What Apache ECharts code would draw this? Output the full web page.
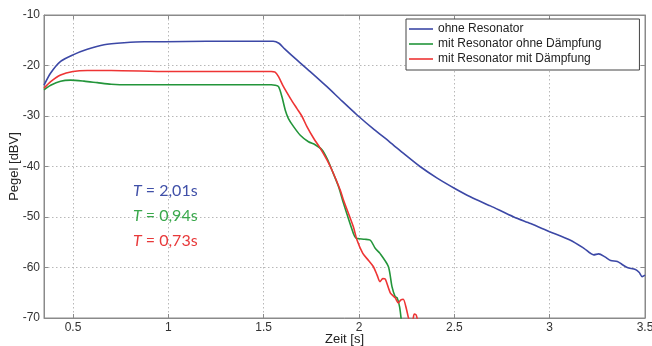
<!DOCTYPE html>
<html>
<head>
<meta charset="utf-8">
<script src="https://cdn.jsdelivr.net/npm/echarts@6/dist/echarts.min.js"></script>
<style>html,body{margin:0;padding:0;background:#fff}#c{width:652px;height:346px}</style>
</head>
<body>
<div id="c"></div>
<script>
var seriesNames = ['ohne Resonator', 'mit Resonator ohne Dämpfung', 'mit Resonator mit Dämpfung'];
var xTicks = [0.5, 1, 1.5, 2, 2.5, 3, 3.5];
var xTickLabels = ['0.5', '1', '1.5', '2', '2.5', '3', '3.5'];
var yTicks = [-70, -60, -50, -40, -30, -20, -10];

var blueT = [0.348,0.383,0.435,0.5,0.575,0.663,0.768,0.873,0.98,1.2,1.4,1.55,1.58,1.61,1.674,1.75,1.832,1.91,1.99,2.08,2.16,2.24,2.32,2.41,2.5,2.584,2.689,2.812,2.9,3.0,3.109,3.18,3.231,3.257,3.29,3.32,3.355,3.38,3.407,3.45,3.47,3.485,3.5];
var blueV = [-23.9,-21.5,-19.2,-17.9,-16.8,-15.9,-15.5,-15.3,-15.3,-15.2,-15.2,-15.2,-15.6,-16.7,-18.9,-21.4,-24.2,-27.0,-29.8,-32.7,-35.1,-37.6,-40.0,-42.3,-44.3,-46.0,-47.8,-50.0,-51.3,-52.9,-54.6,-56.2,-57.5,-57.3,-57.9,-58.6,-58.8,-59.4,-60.0,-60.4,-61.0,-61.8,-61.5];

var greenT = [0.348,0.383,0.435,0.488,0.558,0.628,0.7,0.8,1.0,1.3,1.54,1.56,1.578,1.596,1.613,1.63,1.657,1.692,1.735,1.77,1.806,1.832,1.858,1.893,1.918,1.97,1.985,2.0,2.03,2.06,2.085,2.11,2.154,2.173,2.19,2.2,2.213,2.222];
var greenV = [-24.8,-23.9,-23.1,-22.9,-23.1,-23.4,-23.7,-23.8,-23.8,-23.8,-23.8,-23.9,-24.2,-26.2,-28.8,-30.5,-32.1,-33.8,-35.1,-35.7,-36.7,-38.4,-40.7,-44.0,-47.2,-53.2,-54.2,-54.3,-54.4,-54.6,-56.2,-57.2,-59.8,-63.8,-65.8,-66.0,-67.8,-70.5];

var redT = [0.348,0.383,0.435,0.5,0.575,0.7,1.0,1.3,1.54,1.56,1.578,1.604,1.64,1.674,1.7,1.727,1.762,1.797,1.832,1.858,1.902,1.918,1.97,1.99,2.02,2.05,2.075,2.095,2.11,2.125,2.138,2.164,2.19,2.206,2.22,2.232,2.25,2.262,2.28,2.29,2.3,2.31];
var redV = [-24.5,-23.2,-21.9,-21.2,-21.0,-21.0,-21.2,-21.2,-21.2,-21.3,-22.2,-24.2,-26.5,-28.5,-30.0,-32.1,-34.4,-36.4,-38.7,-40.7,-44.7,-46.6,-51.9,-54.6,-57.2,-58.6,-59.8,-61.5,-62.8,-62.2,-62.3,-65.0,-66.0,-67.0,-66.4,-66.3,-68.4,-70.2,-70.5,-69.2,-69.4,-71.0];

var annoTexts = ['2,01s', '0,94s', '0,73s'];
var colors = ['#3c48a6', '#23953a', '#ee3434'];
var annoColors = ['#4050a8', '#3aa84c', '#e8393a'];

function pairs(t, v) { return t.map(function (x, i) { return [x, v[i]]; }); }

var chart = echarts.init(document.getElementById('c'));
var axisCol = '#8a8a8a';
var gridLine = { show: true, lineStyle: { color: '#b8b8b8', type: [1.5, 2.5], width: 1 } };
var font = 'Liberation Sans, Arial, sans-serif';

chart.setOption({
  animation: false,
  color: colors,
  grid: { left: 44, right: 7, top: 15, bottom: 28, show: true, borderColor: axisCol, borderWidth: 1,
          containLabel: false, outerBoundsMode: 'none' },
  legend: {
    orient: 'vertical', left: 406, top: 19,
    data: seriesNames,
    icon: 'rect', itemWidth: 24, itemHeight: 1.6, itemGap: 3,
    padding: [4, 38, 5, 3],
    borderColor: '#444', borderWidth: 1, backgroundColor: '#fff',
    textStyle: { fontFamily: font, fontSize: 12, color: '#222' }
  },
  xAxis: [{
    type: 'value', min: 0.348, max: 3.5,
    name: 'Zeit [s]', nameLocation: 'middle', nameGap: 15, nameMoveOverlap: false,
    nameTextStyle: { fontFamily: font, fontSize: 13, color: '#222' },
    axisLine: { show: true, lineStyle: { color: axisCol } },
    axisTick: { show: true, inside: true, length: 4, customValues: xTicks, lineStyle: { color: axisCol } },
    axisLabel: { customValues: xTicks, fontFamily: font, fontSize: 12, color: '#333', margin: 4,
      formatter: function (v) { var i = xTicks.indexOf(v); return i >= 0 ? xTickLabels[i] : ''; } },
    splitLine: gridLine
  }, {
    type: 'value', min: 0.348, max: 3.5, position: 'top',
    axisLine: { show: true, lineStyle: { color: axisCol } },
    axisTick: { show: true, inside: true, length: 4, customValues: xTicks, lineStyle: { color: axisCol } },
    axisLabel: { show: false, customValues: xTicks }, splitLine: { show: false }
  }],
  yAxis: [{
    type: 'value', min: -70, max: -10, interval: 10,
    name: 'Pegel [dBV]', nameLocation: 'middle', nameGap: 23, nameRotate: 90, nameMoveOverlap: false,
    nameTextStyle: { fontFamily: font, fontSize: 13, color: '#222' },
    axisLine: { show: true, lineStyle: { color: axisCol } },
    axisTick: { show: true, inside: true, length: 4, lineStyle: { color: axisCol } },
    axisLabel: { fontFamily: font, fontSize: 12, color: '#333', margin: 4 },
    splitLine: gridLine
  }, {
    type: 'value', min: -70, max: -10, interval: 10, position: 'right',
    axisLine: { show: true, lineStyle: { color: axisCol } },
    axisTick: { show: true, inside: true, length: 4, lineStyle: { color: axisCol } },
    axisLabel: { show: false }, splitLine: { show: false }
  }],
  series: [
    { name: seriesNames[0], type: 'line', data: pairs(blueT, blueV), showSymbol: false, smooth: 0.25, lineStyle: { width: 1.6 }, clip: true, z: 3 },
    { name: seriesNames[1], type: 'line', data: pairs(greenT, greenV), showSymbol: false, smooth: 0.25, lineStyle: { width: 1.6 }, clip: true, z: 3 },
    { name: seriesNames[2], type: 'line', data: pairs(redT, redV), showSymbol: false, smooth: 0.25, lineStyle: { width: 1.6 }, clip: true, z: 4 }
  ],
  graphic: annoTexts.map(function (t, i) {
    return {
      type: 'text', left: 133, top: 183 + i * 25, z: 10,
      style: {
        text: '{i|T} = ' + t,
        fill: annoColors[i],
        font: '16px Lato, sans-serif',
        rich: { i: { fontStyle: 'italic', fontFamily: 'Lato', fontSize: 16, fill: annoColors[i] } }
      }
    };
  })
});
</script>
</body>
</html>
